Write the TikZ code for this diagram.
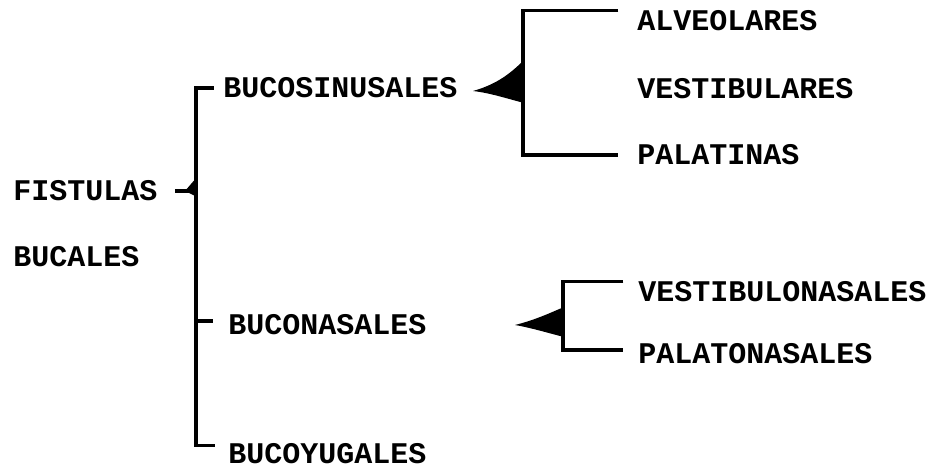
\documentclass[tikz,border=0pt]{standalone}
\usepackage{fontspec}
\usepackage{tikz}
\newfontfamily\twfont{Liberation Mono}

\tikzset{
  lbl/.style={anchor=west, inner sep=0pt, font=\twfont\bfseries\fontsize{22.5}{25}\selectfont},
  brk/.style={line width=2.6pt},
}

\begin{document}
\begin{tikzpicture}[x=0.75pt,y=0.75pt,yscale=-1,xscale=1]
\path (0,0) rectangle (932,470);

% Text Node
\node[lbl] (fis) at (13,191) {FISTULAS};
% Text Node
\node[lbl] (buc) at (13,257) {BUCALES};
% Text Node
\node[lbl] (bsin) at (223,88) {BUCOSINUSALES};
% Text Node
\node[lbl] (bnas) at (228,325) {BUCONASALES};
% Text Node
\node[lbl] (byug) at (228,454) {BUCOYUGALES};
% Text Node
\node[lbl] (alv) at (637,21) {ALVEOLARES};
% Text Node
\node[lbl] (ves) at (637,89) {VESTIBULARES};
% Text Node
\node[lbl] (pal) at (637,155) {PALATINAS};
% Text Node
\node[lbl] (vna) at (638,292) {VESTIBULONASALES};
% Text Node
\node[lbl] (pna) at (638,354) {PALATONASALES};

% junctions
\coordinate (v0) at (196,191);
\coordinate (w1) at (523,91);
\coordinate (w2) at (563,323);

%Straight Lines
\draw[brk, shorten <=13pt] (fis.east) -- (v0);
\fill (v0) ++(-11,0) -- ++(12,-14) -- ++(0,20) -- cycle;
%Straight Lines
\draw[brk, shorten <=7pt, shorten >=10pt] (bsin.west) -| (v0) |- ([yshift=-6.5pt]byug.west);
\draw[brk, shorten >=11pt] (v0) |- ([yshift=-3pt]bnas.west);

%Straight Lines
\draw[brk, shorten <=14pt, shorten >=14pt] (alv.north west) -| (w1) |- (pal.west);
\fill (473,91) .. controls (498,84) and (512,72) .. (524,60) -- (524,103) .. controls (505,98) and (490,93) .. cycle;

%Straight Lines
\draw[brk, shorten <=11pt, shorten >=11pt] (vna.north west) -| (w2) |- ([yshift=-3pt]pna.west);
\fill (515,325) .. controls (535,320) and (550,313) .. (564,307) -- (564,337) .. controls (548,333) and (532,328) .. cycle;

\end{tikzpicture}
\end{document}
